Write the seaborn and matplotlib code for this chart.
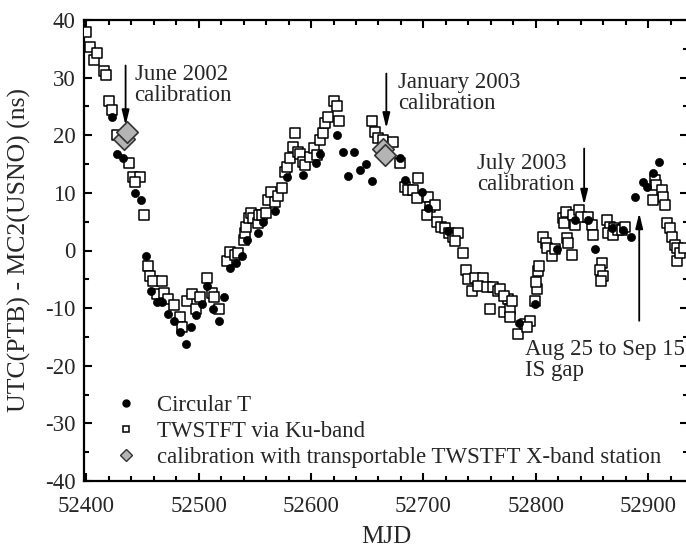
import matplotlib
matplotlib.use("Agg")
import matplotlib.pyplot as plt
from matplotlib.ticker import MultipleLocator
from matplotlib.lines import Line2D
import seaborn as sns
import pandas as pd

# ---------------------------------------------- data ----------------------------------------------

circ_mjd = [52423, 52427, 52433, 52443, 52449, 52453, 52458, 52463, 52467, 52473, 52478, 52483,
            52489, 52493, 52498, 52503, 52507, 52513, 52518, 52523, 52528, 52533, 52539, 52543,
            52553, 52557, 52568, 52579, 52593, 52604, 52608, 52623, 52628, 52638, 52633, 52644,
            52649, 52654, 52679, 52684, 52699, 52704, 52722, 52785, 52799, 52819, 52835, 52846,
            52853, 52868, 52878, 52885, 52888, 52895, 52899, 52904, 52910]
circ_ns = [23.1, 16.8, 16.0, 10.0, 8.8, -1.0, -7.0, -9.0, -9.0, -11.0, -12.2, -14.1,
           -16.2, -13.2, -11.2, -9.2, -6.1, -10.2, -12.2, -8.1, -3.1, -2.1, -1.0, 1.9,
           3.0, 5.0, 6.9, 12.8, 13.1, 15.1, 16.8, 20.0, 17.1, 17.1, 13.0, 13.9,
           15.0, 12.1, 16.0, 12.2, 10.2, 7.4, 3.3, -12.6, -9.3, 0.2, 5.3, 5.3,
           0.2, 3.9, 3.6, 2.4, 9.3, 11.9, 11.0, 13.4, 15.3]

ku_mjd = [52400, 52403, 52407, 52410, 52416, 52418, 52420, 52423, 52427, 52438, 52442, 52448,
          52443, 52451, 52455, 52457, 52459, 52467, 52463, 52469, 52473, 52478, 52483, 52485,
          52490, 52494, 52498, 52501, 52507, 52512, 52514, 52518, 52525, 52528, 52532, 52535,
          52540, 52541, 52542, 52545, 52547, 52548, 52553, 52554, 52556, 52560, 52562, 52564,
          52568, 52571, 52574, 52577, 52579, 52581, 52584, 52586, 52588, 52590, 52593, 52595,
          52599, 52603, 52605, 52608, 52611, 52612, 52615, 52620, 52623, 52625, 52654, 52657,
          52660, 52664, 52673, 52679, 52684, 52686, 52691, 52695, 52694, 52704, 52706, 52710,
          52703, 52712, 52716, 52719, 52723, 52726, 52731, 52728, 52735, 52738, 52740, 52746,
          52753, 52743, 52749, 52757, 52762, 52766, 52768, 52759, 52772, 52775, 52777, 52772,
          52779, 52777, 52784, 52790, 52795, 52792, 52799, 52801, 52800, 52802, 52803, 52806,
          52809, 52810, 52814, 52817, 52828, 52829, 52832, 52824, 52825, 52827, 52833, 52835,
          52838, 52840, 52846, 52850, 52851, 52859, 52857, 52860, 52858, 52863, 52866, 52864,
          52870, 52869, 52873, 52877, 52879, 52906, 52907, 52912, 52913, 52904, 52915, 52917,
          52919, 52921, 52924, 52926, 52926, 52928, 52932]
ku_ns = [38.0, 35.4, 33.0, 34.2, 31.2, 30.5, 26.0, 24.3, 20.0, 15.1, 12.8, 12.8,
         11.9, 6.2, -2.7, -4.5, -5.3, -5.3, -7.6, -7.3, -8.4, -9.5, -11.5, -13.3,
         -8.8, -7.5, -10.1, -8.1, -4.7, -7.3, -8.1, -10.1, -1.9, -0.2, -0.7, -0.4,
         1.9, 3.1, 4.1, 5.7, 6.5, 5.7, 4.8, 6.2, 6.2, 6.5, 8.8, 10.2,
         8.5, 9.4, 10.8, 13.6, 14.5, 16.0, 17.9, 20.4, 17.1, 16.8, 15.3, 14.8,
         16.2, 17.8, 16.5, 19.1, 20.4, 22.1, 23.1, 26.0, 25.1, 22.5, 22.5, 20.5,
         19.6, 19.1, 18.8, 15.1, 11.0, 10.5, 10.5, 12.5, 9.1, 9.3, 7.6, 7.9,
         6.2, 5.0, 4.1, 3.9, 3.1, 2.4, 3.1, 1.6, -0.4, -3.3, -5.0, -4.7,
         -4.7, -7.0, -6.2, -6.4, -6.4, -7.0, -6.7, -10.2, -10.7, -8.4, -10.2, -7.9,
         -8.8, -11.6, -14.5, -12.7, -12.2, -13.3, -8.8, -6.7, -5.5, -3.6, -2.7, 2.4,
         1.3, 0.5, -1.0, 0.2, 2.2, 1.3, -0.7, 5.7, 4.8, 6.7, 6.2, 4.4,
         7.0, 5.9, 5.9, 4.4, 2.7, -2.1, -3.3, -4.5, -5.3, 5.3, 4.1, 3.1,
         3.9, 2.7, 3.6, 3.6, 4.1, 12.2, 11.4, 10.5, 9.3, 8.8, 7.9, 4.8,
         3.9, 2.4, 1.0, 0.5, -1.9, -0.4, 0.5]

cal_mjd = [52434, 52436, 52664, 52666]
cal_ns = [19.4, 20.6, 17.6, 16.5]

legend_labels = ["Circular T", "TWSTFT via Ku-band",
                 "calibration with transportable TWSTFT X-band station"]

# -------------------------------------------- figure ---------------------------------------------

sns.set_style("ticks")
plt.rcParams["font.family"] = ["Liberation Serif", "DejaVu Serif"]
plt.rcParams["axes.unicode_minus"] = False

FS = 16.5

fig = plt.figure(figsize=(6.86, 5.5), dpi=100)
ax = fig.add_axes([84 / 686, 69 / 550, 604 / 686, 461 / 550])

df_c = pd.DataFrame({"MJD": circ_mjd, "ns": circ_ns})
df_k = pd.DataFrame({"MJD": ku_mjd, "ns": ku_ns})
df_d = pd.DataFrame({"MJD": cal_mjd, "ns": cal_ns})

sns.scatterplot(data=df_k, x="MJD", y="ns", ax=ax, marker="s", s=42,
                facecolor="white", edgecolor="black", linewidth=1.1, zorder=3)
sns.scatterplot(data=df_c, x="MJD", y="ns", ax=ax, marker="o", s=34,
                color="black", edgecolor="black", linewidth=0.5, zorder=4)
sns.scatterplot(data=df_d, x="MJD", y="ns", ax=ax, marker="D", s=120,
                facecolor="#b4b4b4", edgecolor="#333333", linewidth=1.2, zorder=5)

ax.set_xlim(52398, 52935.4)
ax.set_ylim(-40, 40)
ax.xaxis.set_major_locator(MultipleLocator(100))
ax.xaxis.set_minor_locator(MultipleLocator(20))
ax.yaxis.set_major_locator(MultipleLocator(10))
ax.yaxis.set_minor_locator(MultipleLocator(5))
ax.tick_params(which="both", direction="in", top=True, right=True, width=1.5,
               labelsize=FS, color="black")
ax.tick_params(which="major", length=6)
ax.tick_params(which="minor", length=3.5)
ax.tick_params(axis="x", pad=11)
ax.tick_params(axis="y", pad=6)
for sp in ax.spines.values():
    sp.set_linewidth(1.6)
    sp.set_color("black")

ax.set_xlabel("MJD", fontsize=18)
ax.set_ylabel("UTC(PTB) - MC2(USNO) (ns)", fontsize=18.5)
ax.xaxis.set_label_coords(0.5, -0.098)
ax.yaxis.set_label_coords(-0.088, 0.5)

# ------------------------------------------ annotations ------------------------------------------

arrow = dict(arrowstyle="-|>,head_width=0.22,head_length=0.9", color="black", lw=1.3,
             shrinkA=0, shrinkB=0)
ax.annotate("", xy=(52435, 21.7), xytext=(52435, 32.1), arrowprops=arrow)
ax.annotate("", xy=(52667, 21.2), xytext=(52667, 30.7), arrowprops=arrow)
ax.annotate("", xy=(52843, 7.9), xytext=(52843, 17.7), arrowprops=arrow)
ax.annotate("", xy=(52892, 6.5), xytext=(52892, -12.2), arrowprops=arrow)

txt = dict(fontsize=FS, ha="left", va="top", linespacing=1.0)
ax.text(52443, 32.3, "June 2002\ncalibration", **txt)
ax.text(52677.5, 30.9, "January 2003\ncalibration", **txt)
ax.text(52748, 17.0, "July 2003\ncalibration", **txt)
ax.text(52790, -15.3, "Aug 25 to Sep 15\nIS gap", **txt)

handles = [
    Line2D([], [], ls="none", marker="o", ms=5, mfc="black", mec="black"),
    Line2D([], [], ls="none", marker="s", ms=5, mfc="white", mec="black", mew=1.1),
    Line2D([], [], ls="none", marker="D", ms=6, mfc="#b4b4b4", mec="#333333", mew=1.0),
]
ax.legend(handles, legend_labels, loc="upper left", bbox_to_anchor=(0.032, 0.206),
          frameon=False, fontsize=FS, handlelength=1.2, handletextpad=0.75,
          labelspacing=0.21, borderaxespad=0)

fig.savefig("out.png", dpi=100)
